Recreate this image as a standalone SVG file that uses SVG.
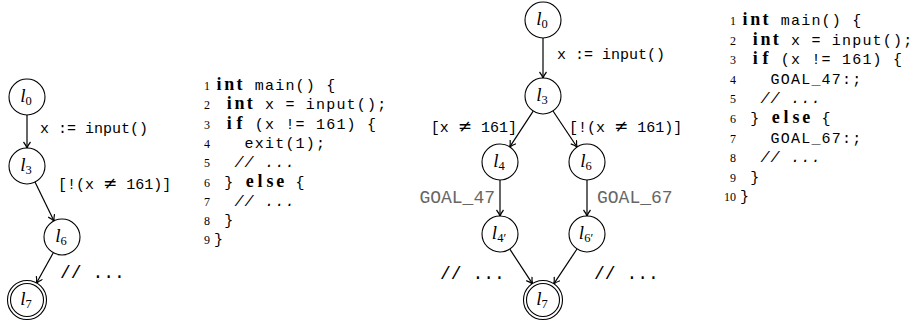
<svg xmlns="http://www.w3.org/2000/svg" width="913" height="333" viewBox="0 0 913 333">
<defs>
<marker id="ah" markerWidth="10" markerHeight="10" refX="7" refY="4" orient="auto" markerUnits="userSpaceOnUse">
<path d="M1,0.5 Q4,3 7.5,4 Q4,5 1,7.5" fill="none" stroke="#000" stroke-width="1.2"/>
</marker>
<style>
.n{fill:#fff;stroke:#000;stroke-width:1.1}
.e{fill:none;stroke:#000;stroke-width:1.2;marker-end:url(#ah)}
.lab{font-family:"Liberation Serif",serif;font-style:italic;font-size:19px;text-anchor:middle}
.sub{font-size:12.5px;font-style:normal}
.mono{font-family:"Liberation Mono",monospace;font-size:15px;white-space:pre}
.code{font-family:"Liberation Mono",monospace;font-size:15px;letter-spacing:1.2px;white-space:pre}
.thin{font-family:"Liberation Mono",monospace;font-size:18px;white-space:pre}
.gray{fill:#666}
.kw{font-family:"Liberation Serif",serif;font-weight:bold;font-size:18px;text-anchor:middle}
.num{font-family:"Liberation Serif",serif;font-size:12px;text-anchor:end}
.cm{font-style:italic}
.ne{font-family:"DejaVu Sans",sans-serif;font-size:17px}
</style>
</defs>

<g id="connectors">
<line class="e" x1="27" y1="115" x2="27" y2="148"/>
<line class="e" x1="35" y1="182" x2="54" y2="221"/>
<line class="e" x1="53.3" y1="252.7" x2="36.5" y2="283"/>
<line class="e" x1="543" y1="38" x2="543" y2="78"/>
<line class="e" x1="533.2" y1="111.1" x2="509.8" y2="146.9"/>
<line class="e" x1="553" y1="111" x2="577" y2="147"/>
<line class="e" x1="500" y1="180" x2="500" y2="216"/>
<line class="e" x1="587" y1="180" x2="587" y2="216"/>
<line class="e" x1="509.8" y1="249.1" x2="532.4" y2="283.7"/>
<line class="e" x1="577" y1="249" x2="553.8" y2="283.8"/>
</g>

<g id="edge-labels">
<text class="mono" x="40" y="133">x := input()</text>
<text class="mono" x="58" y="189">[!(x <tspan class="ne">≠</tspan> 161)]</text>
<text class="thin" x="60" y="278">// ...</text>
<text class="mono" x="557" y="59">x := input()</text>
<text class="mono" x="517" y="132" text-anchor="end">[x <tspan class="ne">≠</tspan> 161]</text>
<text class="mono" x="569" y="132">[!(x <tspan class="ne">≠</tspan> 161)]</text>
<text class="thin gray" x="495" y="203" text-anchor="end">GOAL_47</text>
<text class="thin gray" x="597" y="203">GOAL_67</text>
<text class="thin" x="440" y="279">// ...</text>
<text class="thin" x="594" y="279">// ...</text>
</g>

<g id="L-l0"><circle class="n" cx="27" cy="97" r="18"/><text class="lab" x="26" y="102">l<tspan class="sub" dy="3">0</tspan></text></g>
<g id="L-l3"><circle class="n" cx="27" cy="166" r="18"/><text class="lab" x="26" y="171">l<tspan class="sub" dy="3">3</tspan></text></g>
<g id="L-l6"><circle class="n" cx="62" cy="237" r="18"/><text class="lab" x="61" y="242">l<tspan class="sub" dy="3">6</tspan></text></g>
<g id="L-l7"><circle class="n" cx="27" cy="300" r="19.5"/><circle class="n" cx="27" cy="300" r="16.5"/><text class="lab" x="26" y="305">l<tspan class="sub" dy="3">7</tspan></text></g>

<g id="R-l0"><circle class="n" cx="543" cy="20" r="18"/><text class="lab" x="542" y="25">l<tspan class="sub" dy="3">0</tspan></text></g>
<g id="R-l3"><circle class="n" cx="543" cy="96" r="18"/><text class="lab" x="542" y="101">l<tspan class="sub" dy="3">3</tspan></text></g>
<g id="R-l4"><circle class="n" cx="500" cy="162" r="18"/><text class="lab" x="499" y="167">l<tspan class="sub" dy="3">4</tspan></text></g>
<g id="R-l6"><circle class="n" cx="587" cy="162" r="18"/><text class="lab" x="586" y="167">l<tspan class="sub" dy="3">6</tspan></text></g>
<g id="R-l4p"><circle class="n" cx="500" cy="234" r="18"/><text class="lab" x="499" y="239">l<tspan class="sub" dy="3">4′</tspan></text></g>
<g id="R-l6p"><circle class="n" cx="587" cy="234" r="18"/><text class="lab" x="586" y="239">l<tspan class="sub" dy="3">6′</tspan></text></g>
<g id="R-l7"><circle class="n" cx="543" cy="300" r="19.5"/><circle class="n" cx="543" cy="300" r="16.5"/><text class="lab" x="542" y="305">l<tspan class="sub" dy="3">7</tspan></text></g>

<g id="code1">
<text class="num" x="210" y="90">1</text><text class="kw" x="219.1 229.3 239.5" y="90">int</text><text class="code" x="254.8" y="90">main() {</text>
<text class="num" x="210" y="109.3">2</text><text class="kw" x="229.3 239.5 249.7" y="109.3">int</text><text class="code" x="265" y="109.3">x = input();</text>
<text class="num" x="210" y="128.6">3</text><text class="kw" x="229.3 239.5" y="128.6">if</text><text class="code" x="254.8" y="128.6">(x != 161) {</text>
<text class="num" x="210" y="147.9">4</text><text class="code" x="244.6" y="147.9">exit(1);</text>
<text class="num" x="210" y="167.2">5</text><text class="code cm" x="234.4" y="167.2">// ...</text>
<text class="num" x="210" y="186.5">6</text><text class="code" x="224.2" y="186.5">}</text><text class="kw" x="249.7 259.9 270.1 280.3" y="186.5">else</text><text class="code" x="295.6" y="186.5">{</text>
<text class="num" x="210" y="205.8">7</text><text class="code cm" x="234.4" y="205.8">// ...</text>
<text class="num" x="210" y="225.1">8</text><text class="code" x="224.2" y="225.1">}</text>
<text class="num" x="210" y="244.4">9</text><text class="code" x="214" y="244.4">}</text>
</g>

<g id="code2">
<text class="num" x="736" y="25">1</text><text class="kw" x="745.1 755.3 765.5" y="25">int</text><text class="code" x="780.8" y="25">main() {</text>
<text class="num" x="736" y="44.6">2</text><text class="kw" x="755.3 765.5 775.7" y="44.6">int</text><text class="code" x="791" y="44.6">x = input();</text>
<text class="num" x="736" y="64.2">3</text><text class="kw" x="755.3 765.5" y="64.2">if</text><text class="code" x="780.8" y="64.2">(x != 161) {</text>
<text class="num" x="736" y="83.8">4</text><text class="code" x="770.6" y="83.8">GOAL_47:;</text>
<text class="num" x="736" y="103.4">5</text><text class="code cm" x="760.4" y="103.4">// ...</text>
<text class="num" x="736" y="123">6</text><text class="code" x="750.2" y="123">}</text><text class="kw" x="775.7 785.9 796.1 806.3" y="123">else</text><text class="code" x="821.6" y="123">{</text>
<text class="num" x="736" y="142.6">7</text><text class="code" x="770.6" y="142.6">GOAL_67:;</text>
<text class="num" x="736" y="162.2">8</text><text class="code cm" x="760.4" y="162.2">// ...</text>
<text class="num" x="736" y="181.8">9</text><text class="code" x="750.2" y="181.8">}</text>
<text class="num" x="736" y="201.4">10</text><text class="code" x="740" y="201.4">}</text>
</g>
</svg>
